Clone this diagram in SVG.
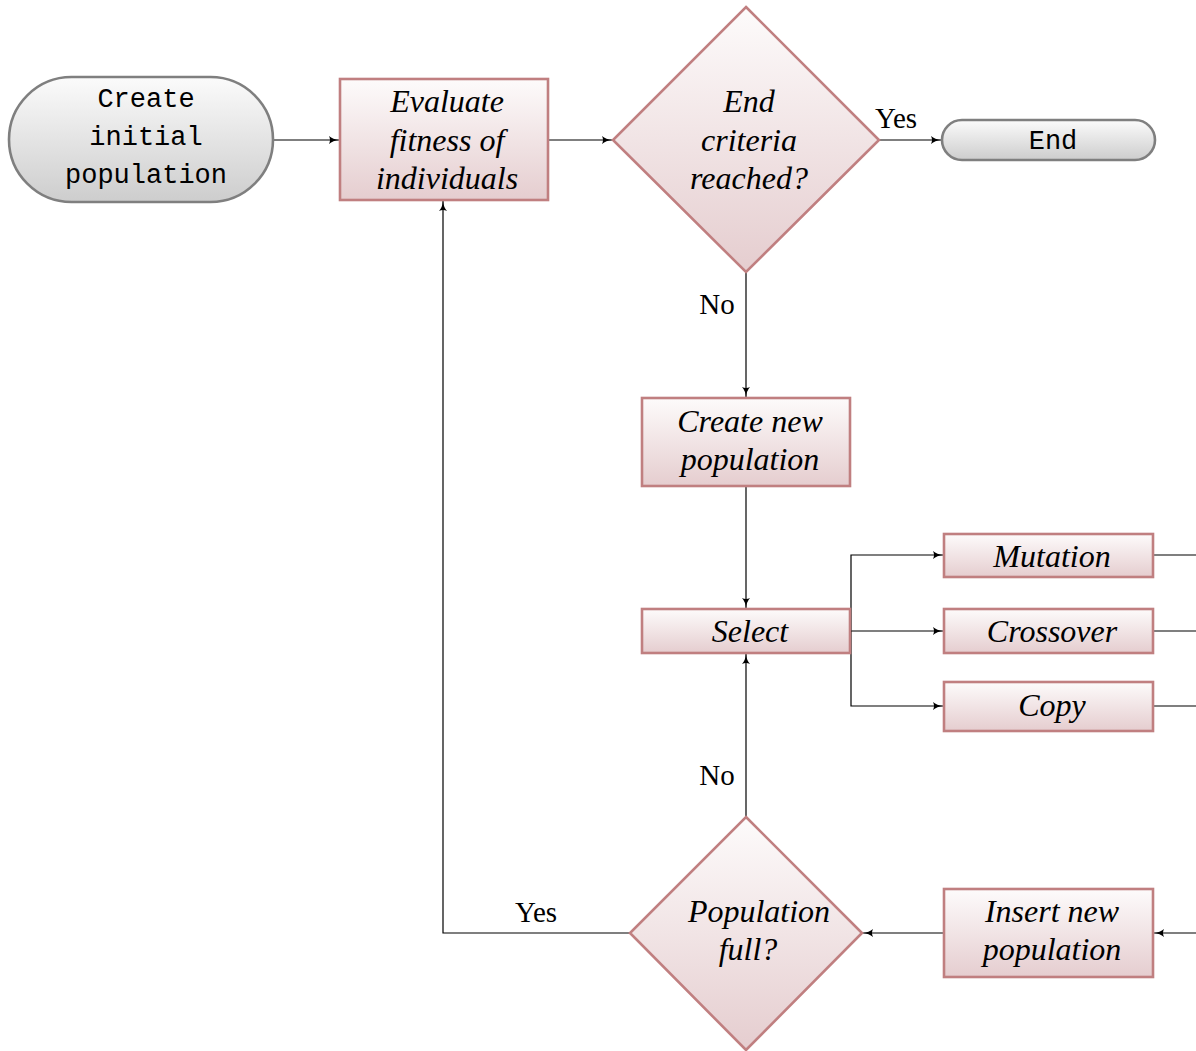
<svg xmlns="http://www.w3.org/2000/svg" width="1196" height="1051" viewBox="0 0 1196 1051">
<defs>
<linearGradient id="gPink" x1="0" y1="0" x2="0" y2="1">
<stop offset="0" stop-color="#fdfbfb"/>
<stop offset="1" stop-color="#e5cdcf"/>
</linearGradient>
<linearGradient id="gGray" x1="0" y1="0" x2="0" y2="1">
<stop offset="0" stop-color="#fbfbfb"/>
<stop offset="1" stop-color="#cdcdcd"/>
</linearGradient>
<marker id="arr" viewBox="0 0 10 8" refX="10" refY="4" markerWidth="10" markerHeight="8" markerUnits="userSpaceOnUse" orient="auto">
<path d="M0,0 Q4,3.5 10,4 Q4,4.5 0,8 Q2,4 0,0 z" fill="#000"/>
</marker>
<style>
.pink{fill:url(#gPink);stroke:#c07f80;stroke-width:2.6}
.gray{fill:url(#gGray);stroke:#7f7f7f;stroke-width:2.6}
.it{font-family:"Liberation Serif",serif;font-style:italic;font-size:32px;text-anchor:middle;fill:#000}
.mono{font-family:"Liberation Mono",monospace;font-size:27px;text-anchor:middle;fill:#000}
.lbl{font-family:"Liberation Serif",serif;font-size:29px;text-anchor:middle;fill:#000}
.c{fill:none;stroke:#000;stroke-width:1.2}
.ca{fill:none;stroke:#000;stroke-width:1.2;marker-end:url(#arr)}
</style>
</defs>
<rect width="1196" height="1051" fill="#fff"/>

<g id="connectors">
<line class="ca" x1="273" y1="140" x2="339" y2="140"/>
<line class="ca" x1="548" y1="140" x2="612" y2="140"/>
<line class="ca" x1="879" y1="140" x2="941" y2="140"/>
<line class="ca" x1="746" y1="272" x2="746" y2="397"/>
<line class="ca" x1="746" y1="486" x2="746" y2="608"/>
<polyline class="ca" points="850,631 851,631 851,555 943,555"/>
<line class="ca" x1="851" y1="631" x2="943" y2="631"/>
<polyline class="ca" points="851,631 851,706 943,706"/>
<line class="c" x1="1153" y1="555" x2="1196" y2="555"/>
<line class="c" x1="1153" y1="631" x2="1196" y2="631"/>
<line class="c" x1="1153" y1="706" x2="1196" y2="706"/>
<line class="ca" x1="1196" y1="933" x2="1154" y2="933"/>
<line class="ca" x1="944" y1="933" x2="863" y2="933"/>
<line class="ca" x1="746" y1="817" x2="746" y2="654"/>
<polyline class="ca" points="630,933 443,933 443,201"/>
<text class="lbl" x="896" y="128">Yes</text>
<text class="lbl" x="717" y="314">No</text>
<text class="lbl" x="717" y="785">No</text>
<text class="lbl" x="536" y="922">Yes</text>
</g>

<g id="start">
<rect class="gray" x="9" y="77" width="264" height="125" rx="62.5" ry="62.5"/>
<text class="mono" x="146" y="107">Create</text>
<text class="mono" x="146" y="145">initial</text>
<text class="mono" x="146" y="183">population</text>
</g>

<g id="evaluate">
<rect class="pink" x="340" y="79" width="208" height="121"/>
<text class="it" x="447" y="112">Evaluate</text>
<text class="it" x="447" y="151">fitness of</text>
<text class="it" x="447" y="189">individuals</text>
</g>

<g id="endcriteria">
<polygon class="pink" points="746,7 879,140 746,272 613,140"/>
<text class="it" x="749" y="112">End</text>
<text class="it" x="749" y="151">criteria</text>
<text class="it" x="749" y="189">reached?</text>
</g>

<g id="end">
<rect class="gray" x="942" y="120" width="213" height="40" rx="20" ry="20"/>
<text class="mono" x="1053" y="149">End</text>
</g>

<g id="createnew">
<rect class="pink" x="642" y="398" width="208" height="88"/>
<text class="it" x="750" y="432">Create new</text>
<text class="it" x="750" y="470">population</text>
</g>

<g id="select">
<rect class="pink" x="642" y="609" width="208" height="44"/>
<text class="it" x="750" y="642">Select</text>
</g>

<g id="mutation">
<rect class="pink" x="944" y="534" width="209" height="43"/>
<text class="it" x="1052" y="567">Mutation</text>
</g>

<g id="crossover">
<rect class="pink" x="944" y="609" width="209" height="44"/>
<text class="it" x="1052" y="642">Crossover</text>
</g>

<g id="copy">
<rect class="pink" x="944" y="682" width="209" height="49"/>
<text class="it" x="1052" y="716">Copy</text>
</g>

<g id="popfull">
<polygon class="pink" points="746,817 862,933 746,1050 630,933"/>
<text class="it" x="759" y="922">Population</text>
<text class="it" x="748" y="960">full?</text>
</g>

<g id="insert">
<rect class="pink" x="944" y="889" width="209" height="88"/>
<text class="it" x="1052" y="922">Insert new</text>
<text class="it" x="1052" y="960">population</text>
</g>
</svg>
